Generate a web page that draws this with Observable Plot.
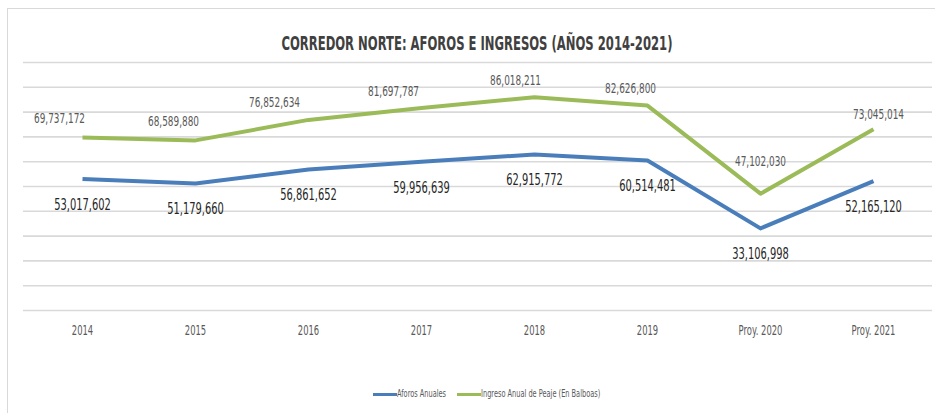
<!DOCTYPE html>
<html>
<head>
<meta charset="utf-8">
<script src="https://cdn.jsdelivr.net/npm/d3@7"></script>
<script src="https://cdn.jsdelivr.net/npm/@observablehq/plot@0.6"></script>
<style>
  html, body { margin: 0; padding: 0; background: #fff; overflow: hidden; width: 935px; height: 413px; }
  #frame { position: absolute; left: 7px; top: 8px; width: 1000px; height: 500px; border: 1.5px solid #d9d9d9; box-sizing: border-box; }
  #wrap { position: absolute; left: 0; top: 0; width: 935px; font-family: "DejaVu Sans", sans-serif; }
  #title { position: relative; height: 50px; }
  #title span { position: absolute; left: 0; width: 935px; top: 33px; line-height: 20px; text-align: center; font-weight: bold; font-size: 20px; color: #404040; transform: scaleX(0.58); transform-origin: 490px 50%; white-space: nowrap; }
  #chart svg { display: block; }
  #legend { position: absolute; top: 386px; left: 0; width: 935px; height: 16px; font-size: 10px; color: #595959; }
  .sw { position: absolute; top: 7px; width: 24px; height: 3px; }
  .lt { position: absolute; top: 0; height: 16px; line-height: 16px; white-space: nowrap; transform-origin: 0 50%; }
</style>
</head>
<body>
<div id="frame"></div>
<div id="wrap">
  <div id="title"><span>CORREDOR NORTE: AFOROS E INGRESOS (AÑOS 2014-2021)</span></div>
  <div id="chart"></div>
  <div id="legend"></div>
</div>
<script>
// ---- data ----
const categories = ["2014", "2015", "2016", "2017", "2018", "2019", "Proy. 2020", "Proy. 2021"];
const aforosAnuales = [53017602, 51179660, 56861652, 59956639, 62915772, 60514481, 33106998, 52165120];
const ingresoAnual = [69737172, 68589880, 76852634, 81697787, 86018211, 82626800, 47102030, 73045014];
const seriesNames = ["Aforos Anuales", "Ingreso Anual de Peaje (En Balboas)"];
const gridTicks = [0, 10000000, 20000000, 30000000, 40000000, 50000000, 60000000, 70000000, 80000000, 90000000, 100000000];

// ---- styling ----
const blue = "#4a7ebb";
const green = "#9bbb59";
const narrow = 0.66; // horizontal text compression to mimic the condensed face
const tickNarrow = 0.6;
const greenLabelNudge = [[-23, -19], [-22, -19], [-34, -17], [-28, -16], [-19, -17], [-17, -17], [0, -32], [5, -15]];

const rows = [];
categories.forEach((c, i) => {
  rows.push({cat: c, value: aforosAnuales[i], series: seriesNames[0], i});
  rows.push({cat: c, value: ingresoAnual[i], series: seriesNames[1], i});
});
const blueRows = rows.filter(d => d.series === seriesNames[0]);
const greenRows = rows.filter(d => d.series === seriesNames[1]);
const fmt = d3.format(",");

const greenLabelMarks = greenRows.map((d, i) => Plot.text([d], {
  x: "cat", y: "value", text: r => fmt(r.value),
  dx: greenLabelNudge[i][0], dy: greenLabelNudge[i][1],
  fill: "#595959", fontSize: 13.5, textAnchor: "middle", lineAnchor: "middle"
}));

const chart = Plot.plot({
  width: 935,
  height: 310,
  marginTop: 12,
  marginBottom: 50,
  marginLeft: 23,
  marginRight: 3,
  style: {fontFamily: '"DejaVu Sans", sans-serif', background: "transparent"},
  x: {type: "point", domain: categories, padding: 0.5, label: null},
  y: {domain: [0, 100000000], axis: null},
  marks: [
    Plot.ruleY(gridTicks, {stroke: "#d9d9d9", strokeWidth: 1.6}),
    Plot.axisX({tickSize: 0, tickPadding: 15, fontSize: 14, color: "#595959", label: null, ariaLabel: "x-axis"}),
    Plot.line(rows, {x: "cat", y: "value", z: "series", stroke: d => d.series === seriesNames[0] ? blue : green, strokeWidth: 4, strokeLinejoin: "round", strokeLinecap: "butt"}),
    Plot.text(blueRows, {x: "cat", y: "value", text: r => fmt(r.value), dy: 26, fill: "#262626", fontSize: 15, textAnchor: "middle", lineAnchor: "middle"}),
    ...greenLabelMarks
  ]
});
document.getElementById("chart").appendChild(chart);

// compress all svg text horizontally
chart.querySelectorAll("text").forEach(t => {
  const len = t.getComputedTextLength();
  if (len > 0) {
    const isTick = t.closest('[aria-label="x-axis"], [aria-label="x-axis tick label"]') !== null;
    t.setAttribute("textLength", (len * (isTick ? tickNarrow : narrow)).toFixed(2));
    t.setAttribute("lengthAdjust", "spacingAndGlyphs");
  }
});

// legend
const legend = document.getElementById("legend");
const legendItems = [
  {name: seriesNames[0], color: blue, left: 373},
  {name: seriesNames[1], color: green, left: 457}
];
legendItems.forEach(it => {
  const sw = document.createElement("div");
  sw.className = "sw";
  sw.style.left = it.left + "px";
  sw.style.background = it.color;
  legend.appendChild(sw);
  const tx = document.createElement("div");
  tx.className = "lt";
  tx.style.left = (it.left + 24) + "px";
  tx.style.transform = `scaleX(${narrow})`;
  tx.textContent = it.name;
  legend.appendChild(tx);
});
</script>
</body>
</html>
